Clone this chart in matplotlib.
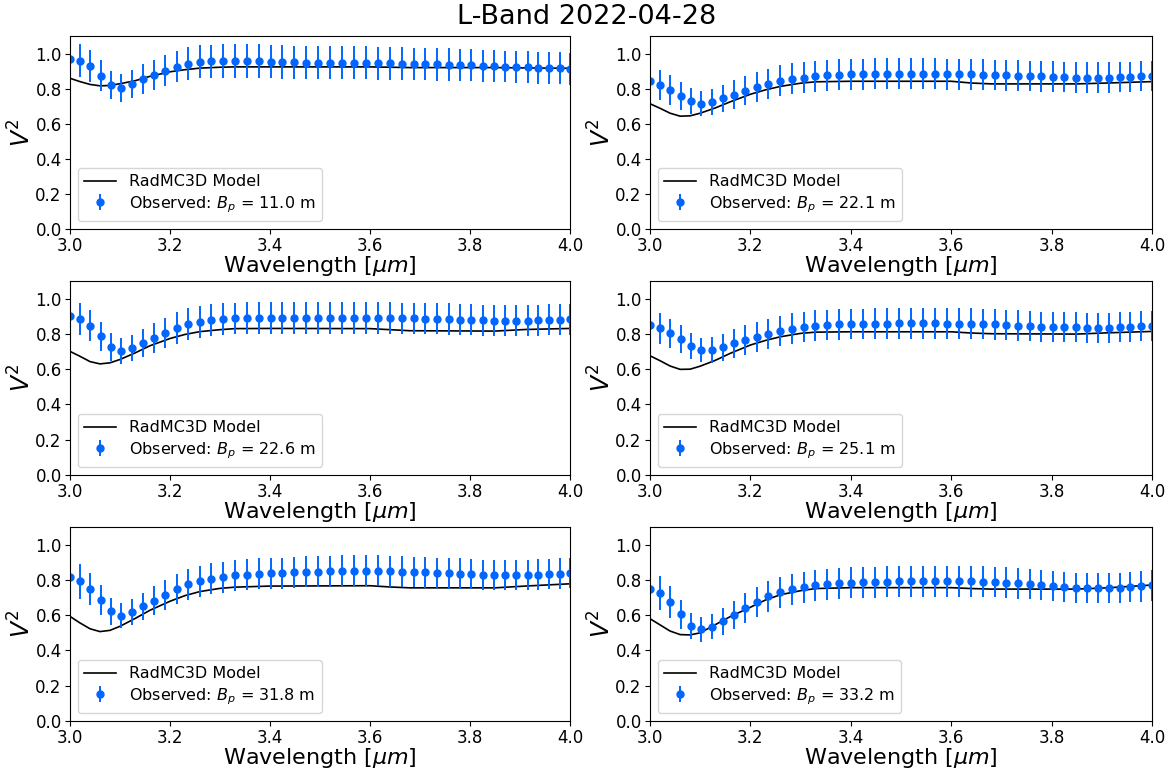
import matplotlib
matplotlib.use("Agg")
import matplotlib.pyplot as plt

title = "L-Band 2022-04-28"
baselines = [11.0, 22.1, 22.6, 25.1, 31.8, 33.2]

wave_obs = [3.000, 3.020, 3.040, 3.061, 3.081, 3.102, 3.123, 3.145, 3.168, 3.190,
            3.213, 3.236, 3.259, 3.282, 3.306, 3.329, 3.353, 3.377, 3.401, 3.424,
            3.448, 3.472, 3.496, 3.520, 3.544, 3.568, 3.591, 3.615, 3.639, 3.663,
            3.687, 3.710, 3.733, 3.757, 3.779, 3.802, 3.825, 3.848, 3.870, 3.892,
            3.915, 3.936, 3.957, 3.979, 4.000]

v2_obs_1 = [0.971, 0.960, 0.928, 0.874, 0.821, 0.806, 0.827, 0.855, 0.878, 0.903,
            0.926, 0.943, 0.952, 0.956, 0.958, 0.958, 0.958, 0.956, 0.954, 0.952,
            0.950, 0.948, 0.948, 0.948, 0.948, 0.948, 0.948, 0.946, 0.944, 0.943,
            0.941, 0.941, 0.939, 0.937, 0.935, 0.933, 0.931, 0.929, 0.926, 0.924,
            0.922, 0.920, 0.918, 0.916, 0.914]
v2_obs_2 = [0.842, 0.821, 0.792, 0.760, 0.730, 0.714, 0.726, 0.745, 0.766, 0.789,
            0.808, 0.827, 0.844, 0.857, 0.863, 0.870, 0.876, 0.880, 0.882, 0.882,
            0.884, 0.884, 0.884, 0.884, 0.884, 0.884, 0.882, 0.882, 0.882, 0.880,
            0.878, 0.876, 0.874, 0.872, 0.870, 0.868, 0.865, 0.863, 0.863, 0.863,
            0.863, 0.865, 0.867, 0.870, 0.872]
v2_obs_3 = [0.900, 0.884, 0.845, 0.786, 0.727, 0.705, 0.720, 0.748, 0.777, 0.805,
            0.833, 0.856, 0.869, 0.879, 0.884, 0.888, 0.890, 0.890, 0.890, 0.890,
            0.890, 0.890, 0.890, 0.892, 0.892, 0.892, 0.890, 0.890, 0.890, 0.888,
            0.888, 0.886, 0.886, 0.884, 0.881, 0.879, 0.877, 0.875, 0.875, 0.875,
            0.875, 0.877, 0.879, 0.881, 0.883]
v2_obs_4 = [0.848, 0.831, 0.803, 0.769, 0.731, 0.708, 0.708, 0.725, 0.746, 0.765,
            0.784, 0.799, 0.816, 0.830, 0.839, 0.847, 0.850, 0.854, 0.856, 0.856,
            0.858, 0.858, 0.860, 0.860, 0.860, 0.860, 0.858, 0.858, 0.858, 0.856,
            0.854, 0.850, 0.847, 0.845, 0.841, 0.839, 0.837, 0.837, 0.835, 0.835,
            0.835, 0.837, 0.839, 0.843, 0.847]
v2_obs_5 = [0.816, 0.793, 0.750, 0.685, 0.621, 0.598, 0.619, 0.650, 0.683, 0.715,
            0.748, 0.774, 0.793, 0.807, 0.816, 0.826, 0.830, 0.834, 0.837, 0.839,
            0.843, 0.845, 0.847, 0.849, 0.851, 0.851, 0.851, 0.851, 0.849, 0.847,
            0.845, 0.843, 0.839, 0.837, 0.836, 0.832, 0.828, 0.826, 0.826, 0.826,
            0.826, 0.830, 0.832, 0.836, 0.839]
v2_obs_6 = [0.750, 0.725, 0.673, 0.604, 0.539, 0.520, 0.535, 0.566, 0.600, 0.641,
            0.675, 0.706, 0.730, 0.746, 0.759, 0.769, 0.776, 0.780, 0.784, 0.786,
            0.788, 0.790, 0.792, 0.793, 0.793, 0.793, 0.793, 0.793, 0.792, 0.790,
            0.788, 0.784, 0.780, 0.776, 0.771, 0.767, 0.761, 0.755, 0.753, 0.753,
            0.753, 0.755, 0.759, 0.763, 0.769]

err_1 = [0.100, 0.095, 0.090, 0.088, 0.082, 0.080, 0.082, 0.084, 0.086, 0.088,
         0.090, 0.092, 0.094, 0.095, 0.095, 0.096, 0.096, 0.096, 0.096, 0.096,
         0.095, 0.095, 0.095, 0.095, 0.095, 0.095, 0.094, 0.094, 0.094, 0.094,
         0.093, 0.093, 0.093, 0.093, 0.092, 0.092, 0.092, 0.092, 0.091, 0.091,
         0.091, 0.091, 0.091, 0.091, 0.091]
err_2 = [0.090, 0.088, 0.085, 0.080, 0.075, 0.072, 0.074, 0.078, 0.082, 0.084,
         0.086, 0.087, 0.088, 0.088, 0.088, 0.088, 0.088, 0.088, 0.088, 0.088,
         0.088, 0.088, 0.088, 0.088, 0.088, 0.088, 0.088, 0.088, 0.088, 0.088,
         0.087, 0.087, 0.087, 0.087, 0.087, 0.087, 0.086, 0.086, 0.086, 0.086,
         0.086, 0.086, 0.086, 0.086, 0.086]
err_3 = [0.095, 0.092, 0.088, 0.084, 0.078, 0.074, 0.076, 0.080, 0.084, 0.087,
         0.089, 0.090, 0.090, 0.090, 0.090, 0.090, 0.090, 0.090, 0.090, 0.090,
         0.090, 0.090, 0.090, 0.090, 0.090, 0.090, 0.090, 0.090, 0.090, 0.089,
         0.089, 0.089, 0.089, 0.089, 0.088, 0.088, 0.088, 0.088, 0.088, 0.088,
         0.088, 0.088, 0.088, 0.088, 0.088]
err_4 = [0.090, 0.088, 0.084, 0.080, 0.074, 0.070, 0.072, 0.076, 0.080, 0.083,
         0.085, 0.086, 0.087, 0.087, 0.087, 0.087, 0.087, 0.087, 0.087, 0.087,
         0.087, 0.087, 0.087, 0.087, 0.087, 0.087, 0.087, 0.087, 0.087, 0.086,
         0.086, 0.086, 0.086, 0.086, 0.086, 0.085, 0.085, 0.085, 0.085, 0.085,
         0.085, 0.085, 0.085, 0.085, 0.085]
err_5 = [0.110, 0.100, 0.092, 0.085, 0.075, 0.070, 0.073, 0.078, 0.082, 0.085,
         0.086, 0.087, 0.088, 0.088, 0.088, 0.088, 0.088, 0.088, 0.088, 0.088,
         0.088, 0.088, 0.088, 0.088, 0.088, 0.088, 0.088, 0.088, 0.088, 0.087,
         0.087, 0.087, 0.087, 0.087, 0.087, 0.086, 0.086, 0.086, 0.086, 0.086,
         0.086, 0.086, 0.086, 0.086, 0.086]
err_6 = [0.105, 0.096, 0.090, 0.082, 0.072, 0.070, 0.072, 0.076, 0.080, 0.084,
         0.086, 0.087, 0.088, 0.088, 0.088, 0.088, 0.088, 0.088, 0.088, 0.088,
         0.088, 0.088, 0.088, 0.088, 0.088, 0.088, 0.088, 0.088, 0.087, 0.087,
         0.087, 0.087, 0.087, 0.087, 0.086, 0.086, 0.086, 0.086, 0.086, 0.086,
         0.086, 0.086, 0.086, 0.086, 0.086]

wave_model = [3.00, 3.02, 3.04, 3.06, 3.08, 3.10, 3.13, 3.16, 3.20, 3.23,
              3.26, 3.30, 3.33, 3.40, 3.60, 3.64, 3.68, 3.85, 3.91, 4.00]
v2_model_1 = [0.859, 0.840, 0.824, 0.816, 0.818, 0.828, 0.845, 0.870, 0.896, 0.908,
              0.917, 0.922, 0.924, 0.924, 0.924, 0.922, 0.920, 0.920, 0.918, 0.916]
v2_model_2 = [0.714, 0.688, 0.660, 0.643, 0.645, 0.660, 0.690, 0.725, 0.768, 0.793,
              0.813, 0.831, 0.839, 0.842, 0.842, 0.832, 0.827, 0.827, 0.832, 0.840]
v2_model_3 = [0.701, 0.673, 0.643, 0.630, 0.636, 0.655, 0.692, 0.733, 0.774, 0.797,
              0.813, 0.824, 0.830, 0.831, 0.830, 0.824, 0.818, 0.816, 0.825, 0.831]
v2_model_4 = [0.676, 0.648, 0.618, 0.599, 0.600, 0.617, 0.650, 0.690, 0.737, 0.763,
              0.784, 0.803, 0.810, 0.812, 0.812, 0.805, 0.801, 0.799, 0.806, 0.814]
v2_model_5 = [0.593, 0.556, 0.523, 0.507, 0.514, 0.537, 0.581, 0.628, 0.679, 0.711,
              0.734, 0.752, 0.759, 0.765, 0.767, 0.760, 0.755, 0.755, 0.765, 0.778]
v2_model_6 = [0.580, 0.545, 0.510, 0.490, 0.488, 0.500, 0.546, 0.592, 0.645, 0.686,
              0.716, 0.739, 0.751, 0.756, 0.756, 0.751, 0.748, 0.748, 0.755, 0.771]

obs = [v2_obs_1, v2_obs_2, v2_obs_3, v2_obs_4, v2_obs_5, v2_obs_6]
errs = [err_1, err_2, err_3, err_4, err_5, err_6]
models = [v2_model_1, v2_model_2, v2_model_3, v2_model_4, v2_model_5, v2_model_6]

fig = plt.figure(figsize=(11.73, 7.75), dpi=100)
W, H = 1173.0, 775.0
cols = [(70, 570), (650, 1152)]
rows = [(36, 229), (281, 475), (527, 721)]
blue = "#0066ff"

for i in range(6):
    r, c = divmod(i, 2)
    x0, x1 = cols[c]
    y0, y1 = rows[r]
    ax = fig.add_axes([x0 / W, 1 - y1 / H, (x1 - x0) / W, (y1 - y0) / H])
    ax.plot(wave_model, models[i], color="black", lw=1.2, label="RadMC3D Model")
    ax.errorbar(wave_obs, obs[i], yerr=errs[i], fmt="o", color=blue, ecolor=blue,
                ms=5, elinewidth=1.4, capsize=0,
                label=r"Observed: $B_p$ = %.1f m" % baselines[i])
    ax.set_xlim(3.0, 4.0)
    ax.set_ylim(0.0, 1.1)
    ax.set_xticks([3.0, 3.2, 3.4, 3.6, 3.8, 4.0])
    ax.set_yticks([0.0, 0.2, 0.4, 0.6, 0.8, 1.0])
    ax.tick_params(labelsize=12, pad=2.5)
    ax.set_xlabel(r"Wavelength [$\mu m$]", fontsize=16, labelpad=-1)
    ax.set_ylabel(r"$V^2$", fontsize=17, labelpad=0)
    ax.legend(loc="lower left", fontsize=11.5, labelspacing=0.3, borderpad=0.4)

fig.suptitle(title, fontsize=19.5, y=0.995, va="top")
fig.savefig("out.png", dpi=100)
